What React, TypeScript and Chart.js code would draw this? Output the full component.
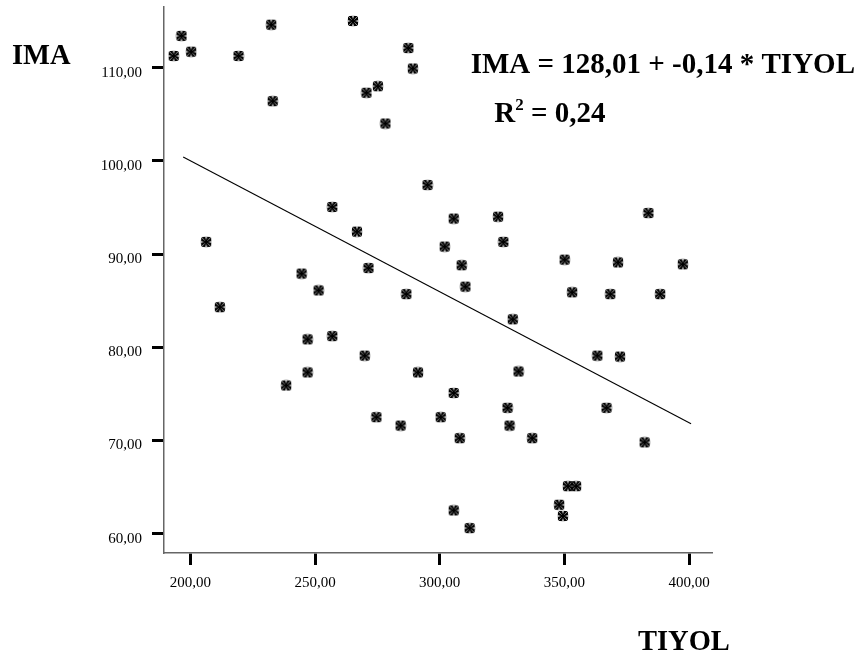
import React, { useEffect, useRef } from "react";
import { Chart, registerables } from "chart.js";

Chart.register(...registerables);

// Observed values (TIYOL on x, IMA on y)
const tiyol = [
  193.3, 196.4, 200.3, 219.3, 232.4, 233.0, 265.2, 287.4, 289.2, 275.2,
  270.6, 278.2, 295.1, 256.9, 266.8, 305.6, 206.3, 302.0, 244.6, 271.4,
  251.4, 286.6, 211.8, 247.0, 256.9, 269.9, 247.0, 291.3, 323.4, 325.5,
  308.8, 310.3, 383.7, 350.1, 371.5, 397.5, 353.1, 368.4, 388.4, 329.3,
  363.2, 372.3, 331.6, 238.4, 274.6, 284.3, 300.4, 305.6, 327.2, 328.0,
  308.0, 337.1, 366.9, 382.2, 351.4, 354.7, 347.9, 349.4, 305.6, 312.0,
];
const ima = [
  111.25, 113.4, 111.7, 111.25, 114.6, 106.4, 115.0, 112.1, 109.9, 108.0,
  107.3, 104.0, 97.4, 95.05, 92.4, 93.8, 91.3, 90.8, 87.9, 88.5,
  86.1, 85.7, 84.3, 80.85, 81.2, 79.1, 77.3, 77.3, 94.0, 91.3,
  88.8, 86.5, 94.4, 89.4, 89.1, 88.9, 85.9, 85.7, 85.7, 83.0,
  79.1, 79.0, 77.4, 75.9, 72.5, 71.6, 72.5, 75.1, 73.5, 71.6,
  70.25, 70.25, 73.5, 69.8, 65.1, 65.1, 63.1, 61.9, 62.5, 60.6,
];

// Fit line end points
const fitX = [197.1, 400.8];
const fitY = [100.4, 71.8];

const xTicks = [200, 250, 300, 350, 400];
const yTicks = [60, 70, 80, 90, 100, 110];
const xRange = [189.4, 409.2];
const yRange = [57.93, 116.5];

const xTitle = "TIYOL";
const yTitle = "IMA";
const equationText = "IMA = 128,01 + -0,14 * TIYOL";
const r2Label = "R";
const r2Sup = "2";
const r2Value = " = 0,24";

const SERIF = '"Liberation Serif", "Times New Roman", serif';

function fmt(v: number): string {
  return Number(v).toFixed(2).replace(".", ",");
}

function makeMarker(): HTMLCanvasElement {
  const s = 12;
  const c = document.createElement("canvas");
  c.width = s;
  c.height = s;
  const g = c.getContext("2d")!;
  const m = s / 2;
  g.beginPath();
  g.arc(m, m, 5.4, 0, Math.PI * 2);
  g.strokeStyle = "rgba(0,0,0,0.18)";
  g.lineWidth = 1;
  g.stroke();
  g.fillStyle = "#000";
  for (let k = 0; k < 4; k++) {
    g.save();
    g.translate(m, m);
    g.rotate((k * Math.PI) / 2);
    g.beginPath();
    g.moveTo(-1, -1);
    g.lineTo(-4.5, -5);
    g.lineTo(-0.8, -5);
    g.lineTo(0, -2);
    g.lineTo(0.8, -5);
    g.lineTo(4.5, -5);
    g.lineTo(1, -1);
    g.closePath();
    g.fill();
    g.restore();
  }
  g.fillRect(m - 1.2, m - 1.2, 2.4, 2.4);
  return c;
}

const textPlugin = {
  id: "spssText",
  afterDraw(chart: any) {
    const ctx = chart.ctx as CanvasRenderingContext2D;
    ctx.save();
    ctx.fillStyle = "#000";
    ctx.textAlign = "left";
    ctx.textBaseline = "alphabetic";
    ctx.font = `bold 28.5px ${SERIF}`;
    ctx.fillText(yTitle, 12, 64);
    ctx.fillText(xTitle, 638, 650);
    ctx.font = `bold 29px ${SERIF}`;
    ctx.fillText(equationText, 470.7, 73.3);
    let x = 494.3;
    const base = 121.7;
    ctx.fillText(r2Label, x, base);
    x += ctx.measureText(r2Label).width;
    ctx.font = `bold 17px ${SERIF}`;
    ctx.fillText(r2Sup, x, base - 12);
    x += ctx.measureText(r2Sup).width;
    ctx.font = `bold 29px ${SERIF}`;
    ctx.fillText(r2Value, x, base);
    ctx.restore();
  },
};

export default function App() {
  const ref = useRef<HTMLCanvasElement | null>(null);

  useEffect(() => {
    if (!ref.current) return;
    const marker = makeMarker();
    const points = tiyol.map((x, i) => ({ x, y: ima[i] }));
    const fit = fitX.map((x, i) => ({ x, y: fitY[i] }));

    const tickFont = { family: SERIF, size: 15 };

    const chart = new Chart(ref.current, {
      type: "scatter",
      data: {
        datasets: [
          {
            label: "IMA",
            data: points,
            pointStyle: marker as any,
            pointRadius: 6,
            showLine: false,
          },
          {
            label: "fit",
            data: fit,
            showLine: true,
            pointRadius: 0,
            borderColor: "#000",
            borderWidth: 1.1,
            fill: false,
          },
        ],
      },
      options: {
        animation: false,
        responsive: false,
        devicePixelRatio: 1,
        layout: { padding: { left: 0, top: 6, right: 152, bottom: 0 } },
        plugins: {
          legend: { display: false },
          tooltip: { enabled: false },
          title: { display: false },
        },
        scales: {
          x: {
            type: "linear",
            min: xRange[0],
            max: xRange[1],
            afterBuildTicks: (s: any) => {
              s.ticks = xTicks.map((v) => ({ value: v }));
            },
            afterFit: (s: any) => {
              s.height = 108;
              s.paddingLeft = 0;
              s.paddingRight = 0;
            },
            ticks: {
              callback: (v: any) => fmt(v),
              font: tickFont,
              color: "#000",
              padding: 9,
              maxRotation: 0,
              autoSkip: false,
            },
            grid: {
              display: true,
              drawOnChartArea: false,
              drawTicks: true,
              tickLength: 12,
              tickWidth: 3,
              tickColor: "#000",
            },
            border: { display: true, color: "#666", width: 1.5 },
          },
          y: {
            type: "linear",
            min: yRange[0],
            max: yRange[1],
            afterBuildTicks: (s: any) => {
              s.ticks = yTicks.map((v) => ({ value: v }));
            },
            afterFit: (s: any) => {
              s.width = 164;
              s.paddingTop = 0;
              s.paddingBottom = 0;
            },
            ticks: {
              callback: (v: any) => fmt(v),
              font: tickFont,
              color: "#000",
              padding: 10,
              labelOffset: 5,
              autoSkip: false,
            },
            grid: {
              display: true,
              drawOnChartArea: false,
              drawTicks: true,
              tickLength: 12,
              tickWidth: 3,
              tickColor: "#000",
            },
            border: { display: true, color: "#666", width: 1.5 },
          },
        },
      },
      plugins: [textPlugin],
    });
    return () => chart.destroy();
  }, []);

  return (
    <div style={{ position: "fixed", left: 0, top: 0, width: 864, height: 661, background: "#fff" }}>
      <canvas ref={ref} width={864} height={661} style={{ display: "block", width: 864, height: 661 }} />
    </div>
  );
}
